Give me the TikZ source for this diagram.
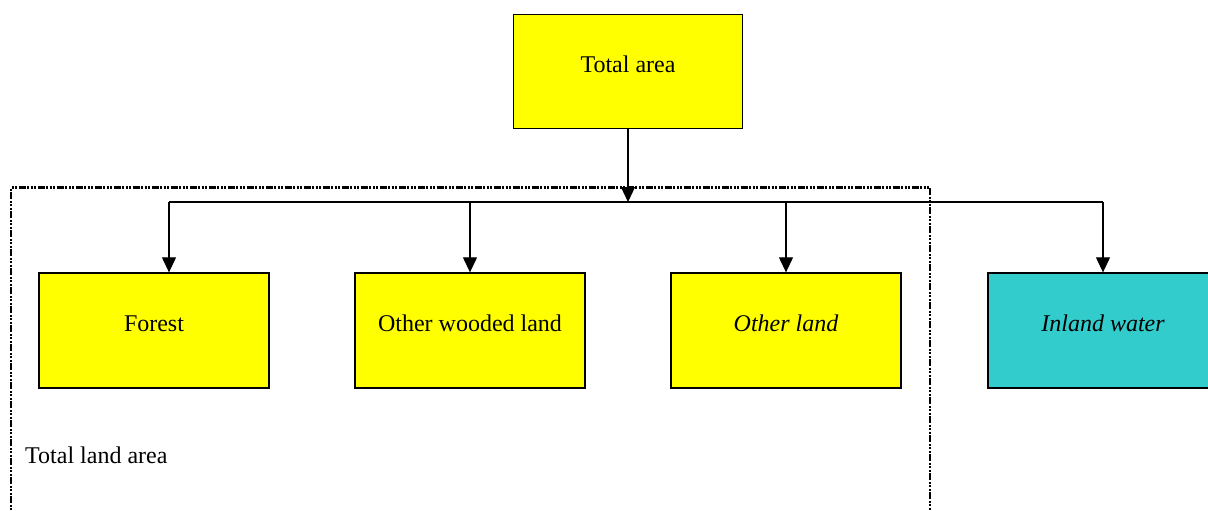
\documentclass[tikz,border=0pt]{standalone}
\usepackage{fontspec}
\setmainfont{Liberation Serif}
\usetikzlibrary{arrows.meta}
\definecolor{boxyellow}{HTML}{FFFF00}
\definecolor{boxcyan}{HTML}{33CCCC}
\tikzset{
  box/.style={draw=black, line width=1.3pt, inner sep=0pt, minimum width=230pt, minimum height=115pt,
    text height=10pt, text depth=8pt, font=\fontsize{24}{28}\selectfont},
  ybox/.style={box, fill=boxyellow},
  cbox/.style={box, fill=boxcyan},
  conn/.style={draw=black, line width=1.1pt},
  arr/.style={conn, -{Triangle[width=14pt,length=15pt]}},
  dotborder/.style={draw=black, line width=2.4pt, dash pattern=on 7pt off 1.5pt on 2pt off 1.5pt on 2pt off 1.5pt on 2pt off 1.5pt},
  plain/.style={inner sep=0pt, font=\fontsize{24}{28}\selectfont}
}
\begin{document}
\begin{tikzpicture}[x=1pt,y=1pt]
\useasboundingbox (0,0) rectangle (1208,-511);
\clip (0,0) rectangle (1208,-511);
\fill[white] (0,0) rectangle (1208,-511);
% dotted land-area border
\draw[dotborder] (11,-560) -- (11,-187.5) -- (930,-187.5) -- (930,-560);
% boxes
\node[ybox, minimum width=229pt, minimum height=114pt] (total) at (628,-71.5) {Total area};
\node[ybox] (forest) at (154,-330.5) {Forest};
\node[ybox] (wooded) at (470,-330.5) {Other wooded land};
\node[ybox] (other) at (786,-330.5) {\itshape Other land};
\node[cbox] (water) at (1103,-330.5) {\itshape Inland water};
\node[plain, anchor=base west] (landlabel) at (25,-463) {Total land area};
% connectors
\coordinate (hl) at (169,-202);
\coordinate (hr) at (1103,-202);
\draw[conn] (hl) -- (hr);
\draw[arr] (total.south) -- (total.south |- hl);
\draw[arr] (hl) -- (hl |- forest.north);
\draw[arr] (wooded.north |- hl) -- (wooded.north);
\draw[arr] (other.north |- hl) -- (other.north);
\draw[arr] (hr) -- (water.north);
\end{tikzpicture}
\end{document}
